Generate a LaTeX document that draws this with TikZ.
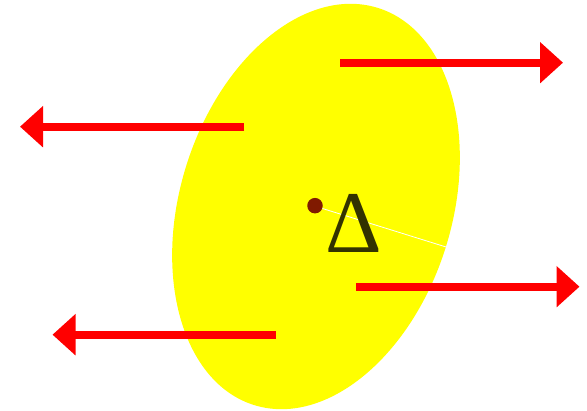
\documentclass[tikz,border=0pt]{standalone}
\usepackage{fontspec}
\newfontfamily\deltafont{Liberation Serif}
\usetikzlibrary{arrows.meta,calc}
\definecolor{dotred}{RGB}{128,26,0}
\definecolor{deltacol}{RGB}{51,51,0}
\definecolor{yel}{RGB}{255,255,0}
\definecolor{pred}{RGB}{255,0,0}
\tikzset{
  bigarrow/.style={draw=pred, line width=8pt, -{Triangle[length=23pt,width=40pt]}},
}
\begin{document}
\begin{tikzpicture}[x=1pt,y=1pt]
\useasboundingbox (0,0) rectangle (587,411);
\coordinate (c) at (316,204.5);
\fill[yel] (c) ellipse[x radius=208pt, y radius=136pt, rotate=72.7];
\coordinate (edge) at ($(c)+(-17.3:136pt)$);
\draw[white, line width=0.8pt] (c) -- (edge);
\node[fill=dotred, circle, inner sep=0pt, minimum size=15.5pt] (dot) at (315,205.3) {};
\node[text=deltacol, inner sep=0pt] (delta) at (353.5,188) {\deltafont\fontsize{88}{88}\selectfont Δ};
\coordinate (a1s) at (340,348.3); \coordinate (a1e) at (563,348.3);
\coordinate (a2s) at (244,284.3); \coordinate (a2e) at (20,284.3);
\coordinate (a3s) at (356,124.3); \coordinate (a3e) at (579.5,124.3);
\coordinate (a4s) at (276,76.3);  \coordinate (a4e) at (52.5,76.3);
\draw[bigarrow] (a1s) -- (a1e);
\draw[bigarrow] (a2s) -- (a2e);
\draw[bigarrow] (a3s) -- (a3e);
\draw[bigarrow] (a4s) -- (a4e);
\end{tikzpicture}
\end{document}
